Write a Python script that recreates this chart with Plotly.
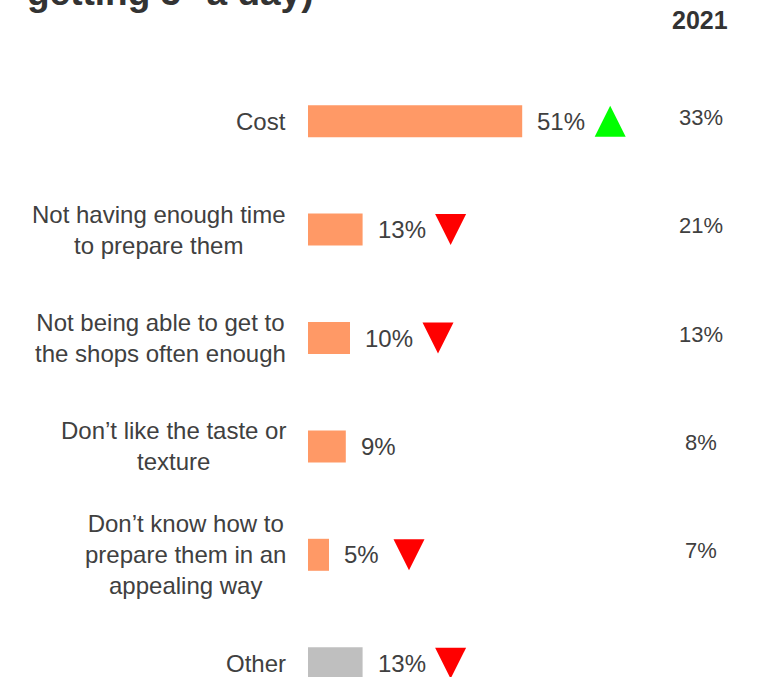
import plotly.graph_objects as go

# Barriers to eating 5+ a day
categories = [
    "Cost",
    "Not having enough time<br>to prepare them",
    "Not being able to get to<br>the shops often enough",
    "Don’t like the taste or<br>texture",
    "Don’t know how to<br>prepare them in an<br>appealing way",
    "Other",
]
values_now = [51, 13, 10, 9, 5, 13]
values_2021 = ["33%", "21%", "13%", "8%", "7%", ""]
change = ["up", "down", "down", None, "down", "down"]
bar_colors = ["#FF9966", "#FF9966", "#FF9966", "#FF9966", "#FF9966", "#BFBFBF"]

TEXT = "#404040"
FONT = "Liberation Sans, Arial, sans-serif"

# pixel scales of the plot area (used to size the arrows)
PX_PER_X = 4.2
PX_PER_Y = 108.4
L, T, W, H = 308, 67, 764, 677
x_max = (W - L) / PX_PER_X
y_max = (H - T) / PX_PER_Y - 0.5

ypos = list(range(len(categories)))

fig = go.Figure()

fig.add_trace(go.Bar(
    x=values_now, y=ypos, orientation="h",
    marker=dict(color=bar_colors, line=dict(width=0)),
    width=32 / PX_PER_Y, hoverinfo="skip",
))

annotations = []
for i, (cat, v, old, ch) in enumerate(zip(categories, values_now, values_2021, change)):
    label = f"{v}%"
    # category label
    annotations.append(dict(
        x=0, y=i, xref="x", yref="y", text=cat, showarrow=False,
        xanchor="right", yanchor="middle", xshift=-20, align="center",
        font=dict(size=24, color=TEXT, family=FONT),
    ))
    # value label
    annotations.append(dict(
        x=v, y=i, xref="x", yref="y", text=label, showarrow=False,
        xanchor="left", yanchor="middle", xshift=13,
        font=dict(size=24, color=TEXT, family=FONT),
    ))
    # 2021 value
    if old:
        annotations.append(dict(
            x=(701 - L) / PX_PER_X, y=i, xref="x", yref="y", text=old, showarrow=False,
            xanchor="center", yanchor="middle", yshift=4,
            font=dict(size=22, color=TEXT, family=FONT),
        ))
    # change arrow
    if ch:
        cx = v + (64 + 8 * len(label)) / PX_PER_X
        hw = 15.5 / PX_PER_X
        hh = 15.5 / PX_PER_Y
        if ch == "up":
            xs, ys, col = [cx - hw, cx + hw, cx, cx - hw], [i + hh, i + hh, i - hh, i + hh], "#00FF00"
        else:
            xs, ys, col = [cx - hw, cx + hw, cx, cx - hw], [i - hh, i - hh, i + hh, i - hh], "#FF0000"
        fig.add_trace(go.Scatter(
            x=xs, y=ys, mode="lines", fill="toself", fillcolor=col,
            line=dict(width=0, color=col), hoverinfo="skip",
        ))

# column header
annotations.append(dict(
    x=(700 - L) / PX_PER_X, y=1, xref="x", yref="paper", text="<b>2021</b>", showarrow=False,
    xanchor="center", yanchor="middle", yshift=T - 20,
    font=dict(size=25, color="#333333", family=FONT),
))
# title (cut off at the top of the slide)
annotations.append(dict(
    x=0, y=1, xref="paper", yref="paper", text="<b>getting 5<sup>+</sup> a day)</b>", showarrow=False,
    xanchor="left", yanchor="bottom", xshift=25 - L, yshift=T - 15,
    font=dict(size=37, color="#333333", family=FONT),
))

fig.update_layout(
    width=W, height=H,
    margin=dict(l=L, r=0, t=T, b=0),
    plot_bgcolor="white", paper_bgcolor="white",
    showlegend=False,
    annotations=annotations,
    xaxis=dict(range=[0, x_max], visible=False, fixedrange=True),
    yaxis=dict(range=[y_max, -0.5], visible=False, fixedrange=True),
)

# drop the page's default body margin so the figure sits at the window corner
fig.write_html("out.html", config={"displayModeBar": False},
               post_script="document.body.style.margin = '0';")
